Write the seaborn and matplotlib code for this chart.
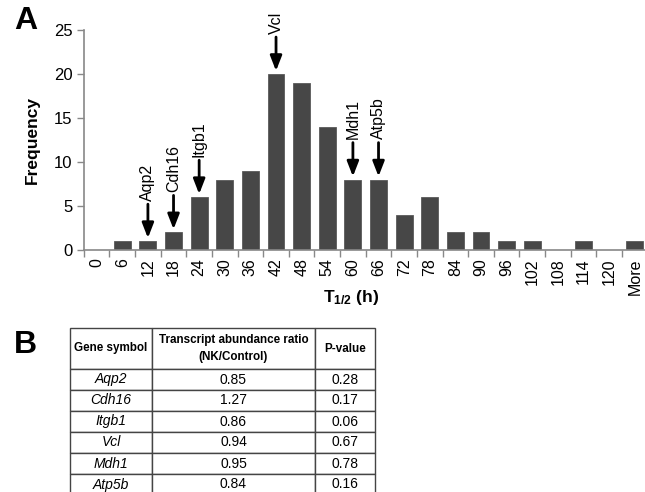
import matplotlib
matplotlib.use("Agg")
import matplotlib.pyplot as plt
import seaborn as sns
import pandas as pd

# --- data ---
bins = ['0', '6', '12', '18', '24', '30', '36', '42', '48', '54', '60', '66',
        '72', '78', '84', '90', '96', '102', '108', '114', '120', 'More']
freq = [0, 1, 1, 2, 6, 8, 9, 20, 19, 14, 8, 8, 4, 6, 2, 2, 1, 1, 0, 1, 0, 1]

marked_genes = ['Aqp2', 'Cdh16', 'Itgb1', 'Vcl', 'Mdh1', 'Atp5b']
marked_bins = ['12', '18', '24', '42', '60', '66']

gene_symbols = ['Aqp2', 'Cdh16', 'Itgb1', 'Vcl', 'Mdh1', 'Atp5b']
abundance_ratio = ['0.85', '1.27', '0.86', '0.94', '0.95', '0.84']
p_values = ['0.28', '0.17', '0.06', '0.67', '0.78', '0.16']

sns.set_style("white")
plt.rcParams['font.family'] = ['Liberation Sans', 'DejaVu Sans']
plt.rcParams['mathtext.fontset'] = 'custom'
plt.rcParams['mathtext.rm'] = 'Liberation Sans'
plt.rcParams['mathtext.bf'] = 'Liberation Sans:bold'
plt.rcParams['text.color'] = 'black'
plt.rcParams['axes.labelcolor'] = 'black'
plt.rcParams['xtick.labelcolor'] = 'black'
plt.rcParams['ytick.labelcolor'] = 'black'

df = pd.DataFrame({'bin': bins, 'freq': freq})

fig = plt.figure(figsize=(6.45, 4.92), dpi=100)

# ---------- panel A ----------
ax = fig.add_axes([0.130, 0.492, 0.874, 0.447])
sns.barplot(data=df, x='bin', y='freq', order=bins, color='#474747',
            saturation=1, width=0.66, edgecolor='#5a5a5a', linewidth=0.6, ax=ax)
ax.set_ylim(0, 25)
ax.set_xlim(-0.5, len(bins) - 0.5)
ax.set_yticks([0, 5, 10, 15, 20, 25])
ax.tick_params(axis='y', labelsize=12, length=5, width=1, color='#888888',
               labelcolor='black', left=True, pad=3)
ax.set_xticks(range(len(bins)))
ax.set_xticklabels(bins, rotation=90, fontsize=11.5)
ax.set_xticks([i - 0.5 for i in range(len(bins) + 1)], minor=True)
ax.tick_params(axis='x', which='major', length=0, pad=6, labelcolor='black')
ax.tick_params(axis='x', which='minor', length=5, width=1, color='#888888',
               bottom=True)
for s in ['top', 'right']:
    ax.spines[s].set_visible(False)
for s in ['left', 'bottom']:
    ax.spines[s].set_color('#888888')
    ax.spines[s].set_linewidth(1.2)

ax.set_ylabel('Frequency', fontsize=12.5, fontweight='bold', labelpad=10,
              color='black')
ax.set_xlabel(r'$\mathbf{T_{1/2}}$ (h)', fontsize=12.5, fontweight='bold',
              color='black')
ax.xaxis.set_label_coords(0.475, -0.175)

for gene, b in zip(marked_genes, marked_bins):
    i = bins.index(b)
    v = freq[i]
    ax.annotate('', xy=(i, v + 0.35), xytext=(i, v + 4.2),
                arrowprops=dict(arrowstyle='-|>,head_length=0.9,head_width=0.35',
                                lw=2, color='black', shrinkA=0, shrinkB=0),
                annotation_clip=False)
    ax.text(i, v + 4.6, gene, rotation=90, ha='center', va='bottom',
            fontsize=11.5, color='black', clip_on=False)

fig.text(0.022, 0.958, 'A', fontsize=23, fontweight='bold', va='center',
         color='black')
fig.text(0.022, 0.298, 'B', fontsize=23, fontweight='bold', va='center',
         color='black')

# ---------- panel B (table) ----------
tax = fig.add_axes([70 / 645, 1 - 495 / 492, 305 / 645, 167 / 492])
tax.axis('off')
cell_text = [[g, r, p] for g, r, p in zip(gene_symbols, abundance_ratio, p_values)]
header = ['Gene symbol', 'Transcript abundance ratio\n(NK/Control)', 'P-value']
tbl = tax.table(cellText=cell_text, colLabels=header, cellLoc='center',
                colWidths=[82 / 305, 163 / 305, 60 / 305], bbox=[0, 0, 1, 1])
tbl.auto_set_font_size(False)
for (r, c), cell in tbl.get_celld().items():
    cell.set_edgecolor('#444444')
    cell.set_linewidth(1.0)
    cell.PAD = 0.02
    cell.set_height(41 / 167 if r == 0 else 21 / 167)
    t = cell.get_text()
    t.set_clip_on(False)
    t.set_color('black')
    if r == 0:
        t.set_fontsize(8.4)
        t.set_fontweight('bold')
        t.set_linespacing(1.5)
    else:
        t.set_fontsize(10)
        if c == 0:
            t.set_fontstyle('italic')

fig.savefig('out.png', dpi=100)
